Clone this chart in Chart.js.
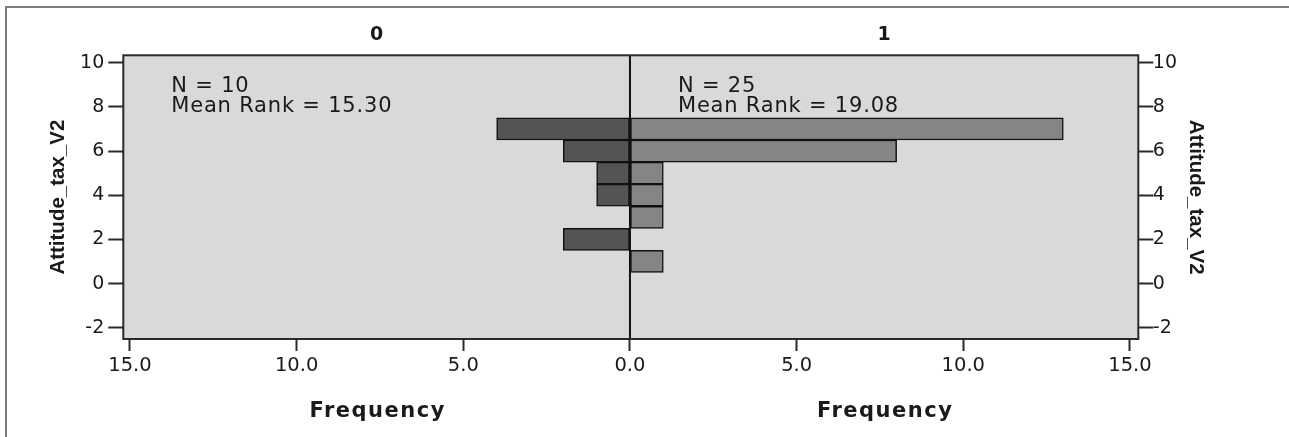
<!DOCTYPE html>
<html>
<head>
<meta charset="utf-8">
<script src="https://cdn.jsdelivr.net/npm/chart.js@4.4.1/dist/chart.umd.min.js"></script>
<style>
  html, body { margin: 0; padding: 0; background: #ffffff; }
  canvas { display: block; }
</style>
</head>
<body>
<canvas id="pyramid" width="1289" height="437"></canvas>
<script>
// Attitude_tax_V2 values, one bar per value
const attitudeValues = [1, 2, 3, 4, 5, 6, 7];
// Frequency of each value in the two groups
const group0Counts = [0, 2, 0, 1, 1, 2, 4];
const group1Counts = [1, 0, 1, 1, 1, 8, 13];
// Group headers and summary statistics
const groupNames = ['0', '1'];
const groupN = [10, 25];
const meanRanks = ['15.30', '19.08'];
// Axis ticks and titles
const yTickValues = [-2, 0, 2, 4, 6, 8, 10];
const xTickValues = [-15, -10, -5, 0, 5, 10, 15];
const xAxisTitle = 'Frequency';
const yAxisTitle = 'Attitude_tax_V2';

const PLOT_BG = '#d9d9d9';
const LEFT_FILL = '#545454';
const RIGHT_FILL = '#858585';
const INK = '#1a1a1a';

// Group 0 grows to the left (negative), group 1 to the right
function toPoints(counts, sign) {
  return attitudeValues
    .map((v, i) => (counts[i] ? { y: v, x: sign * counts[i] } : null))
    .filter(Boolean);
}

const decor = {
  id: 'decor',
  beforeDraw(chart) {
    const { ctx, chartArea: a } = chart;
    ctx.save();
    ctx.fillStyle = PLOT_BG;
    ctx.fillRect(a.left, a.top, a.right - a.left, a.bottom - a.top);
    ctx.strokeStyle = '#7c7c7c';
    ctx.lineWidth = 2;
    ctx.beginPath();
    ctx.moveTo(6, chart.height);
    ctx.lineTo(6, 7);
    ctx.lineTo(chart.width, 7);
    ctx.stroke();
    ctx.restore();
  },
  afterDatasetsDraw(chart) {
    const { ctx, chartArea: a, scales } = chart;
    const x0 = scales.x.getPixelForValue(0);
    const centers = [(a.left + x0) / 2, (x0 + a.right) / 2];
    const starts = [a.left, x0];
    ctx.save();
    // zero divider
    ctx.strokeStyle = '#111';
    ctx.lineWidth = 2;
    ctx.beginPath();
    ctx.moveTo(x0, a.top);
    ctx.lineTo(x0, a.bottom);
    ctx.stroke();
    // plot frame
    ctx.strokeStyle = '#2a2a2a';
    ctx.strokeRect(a.left, a.top, a.right - a.left, a.bottom - a.top);

    ctx.fillStyle = INK;
    ctx.textBaseline = 'alphabetic';
    for (let g = 0; g < 2; g++) {
      // group header
      ctx.font = 'bold 19px "DejaVu Sans"';
      ctx.textAlign = 'center';
      ctx.letterSpacing = '0px';
      ctx.fillText(groupNames[g], centers[g], 40);
      // N and mean rank
      ctx.font = '21px "DejaVu Sans"';
      ctx.textAlign = 'left';
      ctx.letterSpacing = '0.8px';
      ctx.fillText('N = ' + groupN[g], starts[g] + 48, a.top + 36.4);
      ctx.fillText('Mean Rank = ' + meanRanks[g], starts[g] + 48, a.top + 56.4);
      // frequency axis title under each half
      ctx.font = 'bold 21px "DejaVu Sans"';
      ctx.textAlign = 'center';
      ctx.letterSpacing = '1.5px';
      ctx.fillText(xAxisTitle, centers[g] + 1, 416.7);
    }
    ctx.restore();
  }
};

const tickFont = { family: '"DejaVu Sans"', size: 19 };
const yTitle = (pad) => ({
  display: true,
  text: yAxisTitle,
  color: INK,
  font: { family: '"Liberation Sans"', size: 20.5, weight: 'bold', lineHeight: 1 },
  padding: { top: pad, bottom: 0 }
});
const setTicks = (values) => (scale) => {
  scale.ticks = values.map((v) => ({ value: v }));
};
const tickGrid = (len) => ({
  drawOnChartArea: false,
  offset: false,
  tickLength: len,
  tickColor: '#2a2a2a',
  tickWidth: 2
});

new Chart(document.getElementById('pyramid'), {
  type: 'bar',
  data: {
    datasets: [
      {
        label: groupNames[0],
        data: toPoints(group0Counts, -1),
        backgroundColor: LEFT_FILL,
        borderColor: '#111',
        borderWidth: 1.5,
        borderSkipped: false
      },
      {
        label: groupNames[1],
        data: toPoints(group1Counts, 1),
        backgroundColor: RIGHT_FILL,
        borderColor: '#111',
        borderWidth: 1.5,
        borderSkipped: false
      }
    ]
  },
  options: {
    indexAxis: 'y',
    responsive: false,
    animation: false,
    barPercentage: 1,
    categoryPercentage: 1,
    layout: { padding: { top: 55.3, left: 0, right: 0, bottom: 0 } },
    plugins: { legend: { display: false }, tooltip: { enabled: false } },
    scales: {
      x: {
        type: 'linear',
        stacked: true,
        offset: false,
        min: -15.2,
        max: 15.25,
        afterBuildTicks: setTicks(xTickValues),
        afterFit: (s) => { s.height = 98; },
        border: { display: false },
        grid: tickGrid(12),
        ticks: {
          color: INK,
          font: { family: '"DejaVu Sans"', size: 19.5 },
          padding: 3,
          maxRotation: 0,
          callback: (v) => Math.abs(v).toFixed(1)
        }
      },
      y: {
        type: 'linear',
        position: 'left',
        stacked: true,
        offset: false,
        min: -2.51,
        max: 10.335,
        afterBuildTicks: setTicks(yTickValues),
        afterFit: (s) => { s.width = 123.3; },
        border: { display: false },
        grid: tickGrid(15),
        ticks: { color: INK, font: tickFont, padding: 4 },
        title: yTitle(48.5)
      },
      y2: {
        type: 'linear',
        position: 'right',
        offset: false,
        min: -2.51,
        max: 10.335,
        afterBuildTicks: setTicks(yTickValues),
        afterFit: (s) => { s.width = 1289 - 1138.3; },
        border: { display: false },
        grid: tickGrid(15),
        ticks: { color: INK, font: tickFont, padding: -0.5 },
        title: yTitle(82.7)
      }
    }
  },
  plugins: [decor]
});
</script>
</body>
</html>
